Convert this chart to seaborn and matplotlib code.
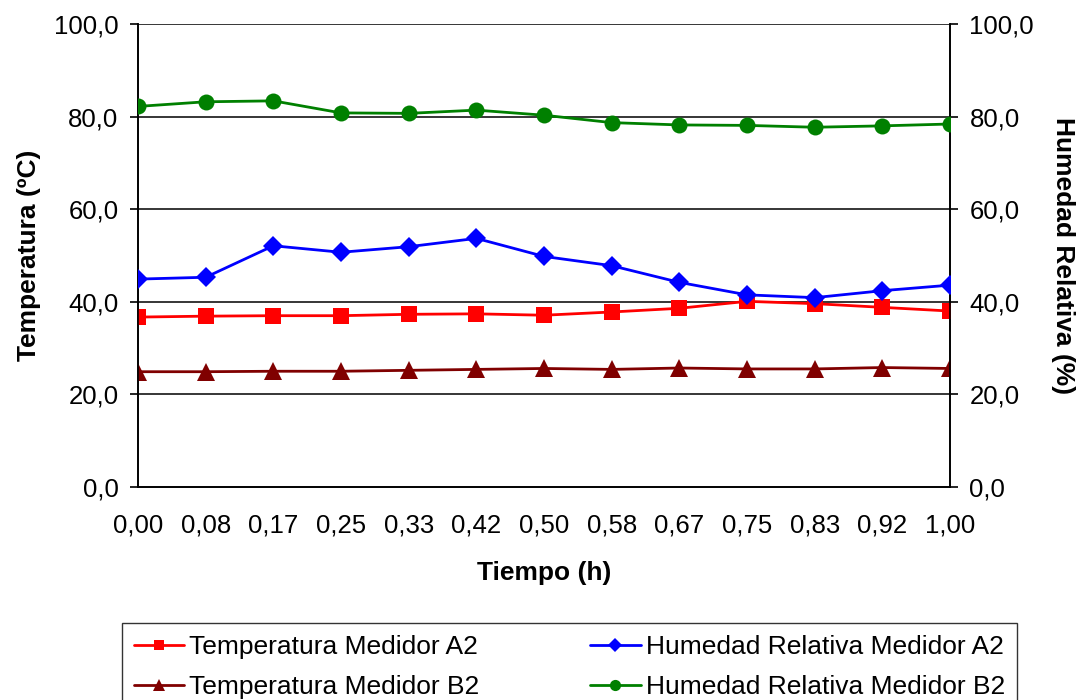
import matplotlib
matplotlib.use("Agg")
import matplotlib.pyplot as plt
import seaborn as sns
import pandas as pd

tiempo_labels = ["0,00", "0,08", "0,17", "0,25", "0,33", "0,42", "0,50",
                 "0,58", "0,67", "0,75", "0,83", "0,92", "1,00"]
temp_a2 = [36.7, 36.9, 37.0, 37.0, 37.3, 37.4, 37.1, 37.8, 38.6, 40.1, 39.6, 38.8, 38.0]
temp_b2 = [24.9, 24.9, 25.0, 25.0, 25.2, 25.4, 25.6, 25.4, 25.7, 25.5, 25.5, 25.8, 25.6]
hum_a2 = [44.9, 45.3, 52.1, 50.7, 51.9, 53.7, 49.8, 47.8, 44.2, 41.5, 40.9, 42.4, 43.6]
hum_b2 = [82.2, 83.2, 83.4, 80.8, 80.7, 81.4, 80.3, 78.7, 78.2, 78.1, 77.7, 78.0, 78.4]
y_ticks = [0, 20, 40, 60, 80, 100]
y_tick_labels = ["0,0", "20,0", "40,0", "60,0", "80,0", "100,0"]

sns.set_style("white", {"text.color": "black", "axes.labelcolor": "black",
                        "xtick.color": "black", "ytick.color": "black"})
plt.rcParams["font.family"] = ["Liberation Sans", "DejaVu Sans"]

df = pd.DataFrame({
    "pos": range(len(tiempo_labels)),
    "Temperatura Medidor A2": temp_a2,
    "Temperatura Medidor B2": temp_b2,
    "Humedad Relativa Medidor A2": hum_a2,
    "Humedad Relativa Medidor B2": hum_b2,
})

fig = plt.figure(figsize=(10.76, 7.0), dpi=100)
ax = fig.add_axes([138 / 1076, 1 - 487 / 700, (950 - 138) / 1076, (487 - 24) / 700])
ax2 = ax.twinx()

styles = {
    "Temperatura Medidor A2": (ax, "s", "#FF0000", 11),
    "Temperatura Medidor B2": (ax, "^", "#800000", 13),
    "Humedad Relativa Medidor A2": (ax2, "D", "#0000FF", 10),
    "Humedad Relativa Medidor B2": (ax2, "o", "#008000", 11.5),
}
for name, (a, mk, col, ms) in styles.items():
    sns.lineplot(data=df, x="pos", y=name, ax=a, marker=mk, color=col,
                 markersize=ms, markeredgewidth=0, linewidth=2,
                 label=name, legend=False, zorder=3)

tick_fs = 18.5
for a in (ax, ax2):
    a.set_ylim(0, 100)
    a.set_yticks(y_ticks)
    a.set_yticklabels(y_tick_labels, fontsize=tick_fs)
    a.set_xlim(0, len(tiempo_labels) - 1)
    for s in a.spines.values():
        s.set_color("black")
        s.set_linewidth(1.2)
    a.tick_params(axis="y", direction="out", length=6, width=1.2,
                  color="black", labelcolor="black", pad=8)

ax.set_xticks(range(len(tiempo_labels)))
ax.set_xticklabels(tiempo_labels, fontsize=tick_fs)
ax.tick_params(axis="x", direction="out", length=6, width=1.2,
               color="black", labelcolor="black", pad=13)
ax.spines["top"].set_visible(False)
ax2.spines["top"].set_visible(False)

for v in [20, 40, 60, 80, 100]:
    ax.axhline(v, color="black", linewidth=1.1, zorder=1)

title_fs = 19
ax.set_xlabel("Tiempo (h)", fontsize=title_fs, fontweight="bold", labelpad=17)
ax.set_ylabel("Temperatura (ºC)", fontsize=title_fs, fontweight="bold", labelpad=9)
ax2.set_ylabel("Humedad Relativa (%)", fontsize=title_fs, fontweight="bold",
               rotation=-90, va="bottom", labelpad=12)

h1, l1 = ax.get_legend_handles_labels()
h2, l2 = ax2.get_legend_handles_labels()
handles = [h1[0], h1[1], h2[0], h2[1]]
labels = [l1[0], l1[1], l2[0], l2[1]]
leg = fig.legend(handles, labels, ncol=2, loc="upper left",
                 bbox_to_anchor=(122 / 1076, 1 - 623 / 700),
                 fontsize=19, frameon=True, fancybox=False,
                 markerscale=0.7, handlelength=1.9, borderpad=0.45,
                 labelspacing=0.62, columnspacing=4.2, handletextpad=0.2,
                 borderaxespad=0)
leg.get_frame().set_edgecolor("black")
leg.get_frame().set_linewidth(1.0)

fig.savefig("out.png", dpi=100)
